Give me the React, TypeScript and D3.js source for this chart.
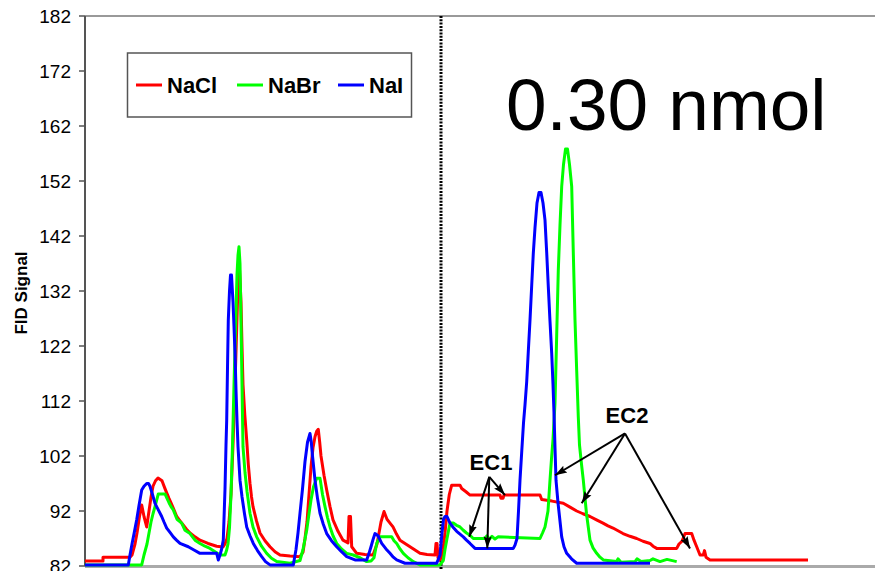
import React, { useEffect, useRef } from "react";
import * as d3 from "d3";

// Retention time (arbitrary units) and FID signal for each salt
const nacl: [number, number][] = [
  [0, 82.9], [18, 82.9], [18, 83.6], [45, 83.6], [47, 84], [50, 86], [52, 88], [54.5, 91], [56.7, 93.1], [59, 91], [61.7, 89.1],
  [64, 92], [66, 94.5], [68, 96.5], [70.5, 97.5], [73, 98.0], [77, 97.5], [79.5, 96.3], [81.7, 95.3], [84, 94.3], [86, 93.5], [89, 92.2], [91.7, 91.0], [95, 90.2], [98, 89.5],
  [101.5, 88.7], [105, 88.0], [110, 87.3], [115, 86.7], [123, 86.1], [131.7, 85.6], [138, 85.45], [140, 86], [142, 87], [144, 90], [146, 95], [148, 104], [150, 115], [151.5, 124], [153, 133],
  [154.5, 136], [156, 130], [157, 122], [158, 115], [159.8, 109.5], [161.7, 104.9], [163.3, 100.5], [165, 97], [166.5, 94.6], [168, 92.8], [171.5, 90.2], [175, 88.0], [180, 86.6], [185, 85.5],
  [190, 84.6], [195, 84.0], [205, 83.8], [215, 83.7], [218, 84.5], [220, 87], [222, 90], [224, 95], [226, 100], [228, 103.5], [230, 105.5], [231.7, 106.5], [233.3, 106.85], [234.7, 104.5], [236, 102], [239, 98.5],
  [241.7, 95.8], [245, 92.8], [248, 90.4], [253, 88.3], [258, 86.7], [263, 86.2], [264, 91.0], [265.5, 91.0], [266.7, 85.5],
  [271.7, 84.3], [280, 84.1], [288, 84.0], [290, 85], [292, 86], [294, 88], [296, 90], [299, 91.9], [302, 90.5], [305, 89.8], [308, 89.1], [311.5, 87.8], [315, 86.7], [320, 86.1],
  [325, 85.5], [330, 84.9], [335, 84.3], [342, 84.1], [350, 84.0], [351, 86.1], [352, 86.1], [353, 83.5], [355, 83.1], [356.5, 83.8], [358, 85], [360, 88], [362, 92], [364.3, 95],
  [366.7, 96.7], [371, 96.7], [375, 96.7], [376.7, 96.1], [381, 95.5], [385, 94.9], [415, 94.9], [416, 94.3], [418, 94.3], [419, 94.9],
  [455, 94.9], [456.7, 94.1], [467, 93.8], [478.3, 93.4], [485, 92.7], [491.7, 92.0], [498, 91.5], [505, 91.0], [511.5, 90.4], [518, 89.8], [523, 89.3], [528, 88.9],
  [533, 88.4], [538, 87.9], [545, 87.4], [551.7, 87.0], [558, 86.5], [565, 86.1], [568, 85.6], [571.7, 85.2], [591.7, 85.2], [594, 86.0], [597, 86.5],
  [600, 87.9], [606.7, 87.9], [609, 86.7], [611.7, 85.5], [615, 84.0], [618.3, 84.0], [619.5, 84.8], [621, 83.6],
  [625, 83.1], [723, 83.1],
];

const nabr: [number, number][] = [
  [0, 82.2], [56.7, 82.2], [59, 84], [62, 86], [64, 88], [66, 90], [68, 91.5], [70, 92.8], [73.3, 95.1], [80, 95.1], [82, 94.3], [84, 93.5],
  [86, 92.8], [88.3, 92.2], [92, 90.5], [96.7, 89.8], [100, 88.5], [105, 87.9], [110, 86.7], [115, 86.1], [120, 85.6], [125, 85.2], [130, 84.6],
  [135, 84.0], [140, 84.0], [141.5, 84.8], [143, 86], [144.5, 89], [146, 95], [147.5, 104], [149, 115], [150.5, 125], [152, 135], [153, 138.5], [154, 140.05], [155, 137], [155.5, 132],
  [156.2, 124], [157, 115], [158, 103.7], [160, 99], [162, 95.6], [165, 91.6], [168, 89.1], [171.7, 87.3], [176.5, 85.6], [181.7, 84.3], [186.5, 83.4], [191.7, 82.8], [205, 82.5],
  [215, 83], [218, 85], [221.7, 88.5], [224, 91.5], [226, 94], [228.5, 96.4], [231.7, 97.95], [235, 97.95], [237.5, 95], [240, 92.8], [242.5, 90.8], [245, 89.1], [248, 87.5],
  [251.7, 86.1], [256.5, 85.1], [261.7, 84.3], [268.3, 84.0], [275, 83.5], [281.7, 82.8], [286, 82.9], [289, 83.5], [291.7, 86.1],
  [295, 87.3], [306.7, 87.3], [309, 86.6], [311.7, 86.1], [315, 85.1], [318.3, 84.3], [323, 83.5], [328.3, 82.8], [335, 82.2], [355, 82.2],
  [358.3, 83], [360, 85], [362, 87], [365, 89.8], [368.3, 89.8], [371.5, 89.4], [375, 89.1], [378.3, 88.5], [381.5, 88.0], [385, 87.6],
  [388.3, 87.0], [400, 87.0], [402, 87.5], [404, 86.8], [407, 87.4], [410, 86.9], [413, 87.3],
  [455, 87.0], [457.5, 88], [460, 89.1], [463, 92], [465, 97.6], [466.5, 101.5], [468, 105], [470, 111.6], [471.7, 124], [473.3, 135.8], [475, 144],
  [476.7, 151.0], [478.5, 155], [480.5, 157.8], [482.5, 157.8], [484.5, 155], [486.7, 151.0], [488.3, 139], [490, 126.7], [491.7, 117.5], [493.3, 109.1], [494.5, 104],
  [496.5, 100.5], [498.3, 97.6], [501.5, 91.5], [505, 86.7], [508, 85.3], [511.7, 84.3], [515, 83.6], [518.3, 83.1], [531.7, 82.8], [533, 83.3], [536, 82.7],
  [550, 82.8], [552, 83.3], [556, 82.8], [565, 83.0], [568, 83.3], [575, 82.8], [582, 83.2], [591.7, 82.8],
];

const nai: [number, number][] = [
  [0, 82.2], [43.3, 82.2], [45, 84], [47, 86], [49.5, 88.3], [51.7, 90.4], [54, 93], [56.7, 95.8], [59, 96.5], [61.7, 97.0], [63.5, 97.0], [65, 96.5], [67.5, 95], [70, 93.4],
  [73.3, 92.2], [76.7, 91.0], [79, 90], [81.7, 88.9], [85, 88.1], [88.3, 87.3], [91.5, 86.7], [95, 86.1], [103.3, 85.5], [109, 84.9], [115, 84.3], [131.7, 84.3],
  [133.3, 83.1], [135, 84], [136.5, 85], [138.3, 86.7], [140, 96], [141, 104], [141.7, 108.5], [142.5, 118], [143.3, 126.7], [144.5, 132], [145.5, 134.9], [146.5, 134.9], [148, 130],
  [149, 125.5], [150, 120.7], [151, 114], [152, 108.5], [153, 103.7], [155, 97.6], [157, 94.6], [159.5, 91.5], [161.7, 89.1], [165, 87.5], [168.3, 86.1], [172.5, 84.8], [176.7, 83.7],
  [180.5, 82.8], [185, 82.2], [208.3, 82.2], [211, 85], [213, 88], [215, 91.6], [217.5, 96], [220, 101], [222.5, 104.5], [225, 106.1], [226.3, 104.5], [227.5, 102], [230, 97.6],
  [232.5, 94.3], [235, 91.6], [238.3, 89.6], [241.7, 87.9], [246.5, 86.6], [251.7, 85.5], [256.5, 84.6], [261.7, 83.7], [270, 83.1], [281.7, 83.1], [284, 84.3], [286, 85.5],
  [288, 86.8], [290, 87.9], [293, 87.5], [296.7, 86.1], [301, 85.1], [305, 84.3], [308.3, 83.6], [311.7, 83.1], [320, 82.5], [351.7, 82.5],
  [355, 84], [357, 88], [358.5, 90.5], [360, 91.0], [362, 91.0], [365, 89.8], [368.3, 89.0], [371.7, 88.3], [375, 87.8], [378.3, 87.3], [381.5, 86.7], [385, 86.1],
  [390, 85.2], [428.3, 85.2], [430, 85.8], [432, 87], [433.5, 92], [435, 97.6], [436.8, 103], [438.5, 108], [440, 111.3], [441.7, 115.5], [443.3, 121], [445, 126.7], [446.7, 133],
  [448.3, 138.85], [450, 143.5], [452, 148], [454, 149.9], [456, 149.9], [458, 148], [460, 144.9], [461.7, 139], [463.3, 132.8], [465, 126.5],
  [466.7, 120.7], [468, 115], [469, 109.8], [470, 103.5], [471, 97.6], [473, 93.5], [476.7, 87.3], [479, 85.5], [481.7, 84.3], [486.5, 83.3], [491.7, 82.5], [565, 82.5],
];

const seriesNames = ["NaCl", "NaBr", "NaI"];
const seriesColors = ["#ff0000", "#00ff00", "#0000ff"];
const yTicks = [82, 92, 102, 112, 122, 132, 142, 152, 162, 172, 182];

// Injection divider and peak annotations (time, signal)
const dividerTime = 356;
const ec1Label: [number, number] = [406, 99.45];
const ec1From: [number, number] = [404.3, 98.2];
const ec1Targets: [number, number][] = [[384.3, 87.3], [402.3, 85.2], [420, 94.9]];
const ec2Label: [number, number] = [542, 108];
const ec2From: [number, number] = [540, 106.1];
const ec2Targets: [number, number][] = [[470, 98.5], [496.7, 93.4], [605, 85.2]];

const W = 875;
const H = 571;
const margin = { left: 85, top: 16, right: -2, bottom: 5 };

export default function App() {
  const ref = useRef<SVGSVGElement>(null);

  useEffect(() => {
    const svg = d3.select(ref.current);
    svg.selectAll("*").remove();

    const x = d3.scaleLinear().domain([0, 792]).range([margin.left, W - margin.right]);
    const y = d3.scaleLinear().domain([82, 182]).range([H - margin.bottom, margin.top]);

    const defs = svg.append("defs");
    defs.append("clipPath").attr("id", "plot-clip")
      .append("rect")
      .attr("x", margin.left).attr("y", margin.top - 2)
      .attr("width", W - margin.left + 5).attr("height", H - margin.bottom - margin.top + 3);
    defs.append("marker")
      .attr("id", "arrow")
      .attr("viewBox", "0 0 12 10")
      .attr("refX", 12).attr("refY", 5)
      .attr("markerWidth", 12).attr("markerHeight", 10)
      .attr("markerUnits", "userSpaceOnUse")
      .attr("orient", "auto")
      .append("path").attr("d", "M0,1 L12,5 L0,9 L2,5 Z").attr("fill", "#000");

    // frame: top border and bottom axis line
    svg.append("line")
      .attr("x1", margin.left).attr("x2", W)
      .attr("y1", y(182)).attr("y2", y(182))
      .attr("stroke", "#999").attr("stroke-width", 2);
    svg.append("line")
      .attr("x1", margin.left).attr("x2", W)
      .attr("y1", y(82) + 0.5).attr("y2", y(82) + 0.5)
      .attr("stroke", "#aaa").attr("stroke-width", 3);

    // y axis
    const yAxis = svg.append("g").attr("transform", `translate(${margin.left},0)`);
    yAxis.append("line")
      .attr("x1", 0).attr("x2", 0).attr("y1", y(182)).attr("y2", y(82))
      .attr("stroke", "#555").attr("stroke-width", 2);
    yTicks.forEach((t) => {
      yAxis.append("line")
        .attr("x1", -6).attr("x2", 0).attr("y1", y(t)).attr("y2", y(t))
        .attr("stroke", "#555").attr("stroke-width", 1.5);
      yAxis.append("text")
        .attr("x", -14).attr("y", y(t)).attr("dy", "0.36em")
        .attr("text-anchor", "end")
        .attr("font-family", "Liberation Sans, Arial, sans-serif")
        .attr("font-size", 19)
        .attr("fill", "#000")
        .text(String(t));
    });
    svg.append("text")
      .attr("transform", `translate(27,${(y(182) + y(82)) / 2 + 2}) rotate(-90)`)
      .attr("text-anchor", "middle")
      .attr("font-family", "Liberation Sans, Arial, sans-serif")
      .attr("font-weight", "bold")
      .attr("font-size", 17)
      .text("FID Signal");

    // divider
    svg.append("line")
      .attr("x1", x(dividerTime)).attr("x2", x(dividerTime))
      .attr("y1", y(182)).attr("y2", y(82) + 3)
      .attr("stroke", "#000").attr("stroke-width", 3)
      .attr("stroke-dasharray", "2,1.3");

    // traces
    const line = d3.line<[number, number]>().x((d) => x(d[0])).y((d) => y(d[1]));
    const g = svg.append("g").attr("clip-path", "url(#plot-clip)");
    [nacl, nabr, nai].forEach((data, i) => {
      g.append("path")
        .datum(data)
        .attr("d", line)
        .attr("fill", "none")
        .attr("stroke", seriesColors[i])
        .attr("stroke-width", 3)
        .attr("stroke-linejoin", "round");
    });

    // legend
    const lg = svg.append("g");
    lg.append("rect")
      .attr("x", 127.5).attr("y", 53).attr("width", 284).attr("height", 64)
      .attr("fill", "#fff").attr("stroke", "#555").attr("stroke-width", 1.5);
    const legendX = [136, 237, 338];
    seriesNames.forEach((name, i) => {
      lg.append("line")
        .attr("x1", legendX[i]).attr("x2", legendX[i] + 26)
        .attr("y1", 85).attr("y2", 85)
        .attr("stroke", seriesColors[i]).attr("stroke-width", 3);
      lg.append("text")
        .attr("x", legendX[i] + 31).attr("y", 85).attr("dy", "0.36em")
        .attr("font-family", "Liberation Sans, Arial, sans-serif")
        .attr("font-weight", "bold")
        .attr("font-size", 22)
        .text(name);
    });

    // amount label
    svg.append("text")
      .attr("x", 506).attr("y", 130)
      .attr("font-family", "Liberation Sans, Arial, sans-serif")
      .attr("font-size", 73)
      .attr("fill", "#000")
      .text("0.30 nmol");

    // peak annotations
    const annotate = (label: [number, number], from: [number, number], targets: [number, number][], text: string) => {
      svg.append("text")
        .attr("x", x(label[0])).attr("y", y(label[1]))
        .attr("text-anchor", "middle")
        .attr("font-family", "Liberation Sans, Arial, sans-serif")
        .attr("font-weight", "bold")
        .attr("font-size", 22)
        .text(text);
      targets.forEach((t) => {
        svg.append("line")
          .attr("x1", x(from[0])).attr("y1", y(from[1]))
          .attr("x2", x(t[0])).attr("y2", y(t[1]))
          .attr("stroke", "#000").attr("stroke-width", 2)
          .attr("marker-end", "url(#arrow)");
      });
    };
    annotate(ec1Label, ec1From, ec1Targets, "EC1");
    annotate(ec2Label, ec2From, ec2Targets, "EC2");
  }, []);

  return (
    <svg
      ref={ref}
      width={W}
      height={H}
      style={{ position: "absolute", left: 0, top: 0, background: "#fff" }}
    />
  );
}
